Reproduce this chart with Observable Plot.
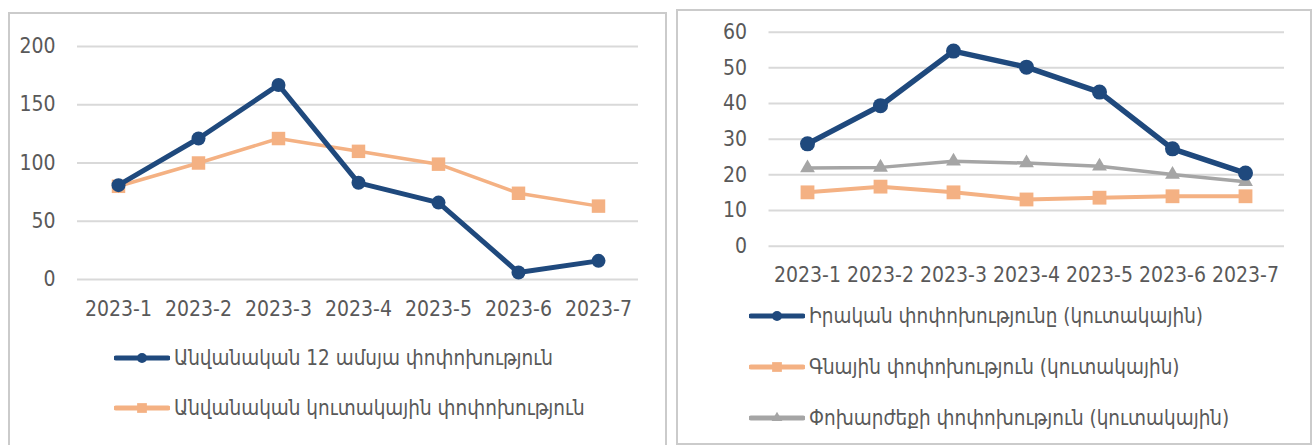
<!DOCTYPE html>
<html>
<head>
<meta charset="utf-8">
<script src="https://cdn.jsdelivr.net/npm/d3@7"></script>
<script src="https://cdn.jsdelivr.net/npm/@observablehq/plot@0.6"></script>
<style>
  html, body { margin: 0; padding: 0; background: #fff; width: 1316px; height: 445px; overflow: hidden; }
  .panel { position: absolute; box-sizing: border-box; border: 2px solid #cbcbcb; background: #fff; }
  .panel svg.plot { position: absolute; left: 0; top: 0; overflow: visible; }
  .legend-item { position: absolute; display: flex; align-items: center; white-space: nowrap;
    font-family: "DejaVu Sans Condensed", "DejaVu Sans", sans-serif; font-stretch: condensed; color: #595959; }
  .legend-item span { margin-left: 4px; }
  svg.plot text { font-family: "DejaVu Sans Condensed", "DejaVu Sans", sans-serif; font-stretch: condensed; }
</style>
</head>
<body>
<div id="left" class="panel" style="left:8px; top:12px; width:659px; height:450px;"></div>
<div id="right" class="panel" style="left:676px; top:9px; width:636px; height:436px;"></div>
<script>
// ---------- data ----------
const months = ["2023-1", "2023-2", "2023-3", "2023-4", "2023-5", "2023-6", "2023-7"];

// left chart
const leftSeriesNames = ["Անվանական 12 ամսյա փոփոխություն", "Անվանական կուտակային փոփոխություն"];
const nominal12m = [81, 121, 167, 83, 66, 6, 16];
const nominalCum = [80, 100, 121, 110, 99, 74, 63];
const leftTicks = [0, 50, 100, 150, 200];

// right chart
const rightSeriesNames = ["Իրական փոփոխությունը (կուտակային)", "Գնային փոփոխություն (կուտակային)", "Փոխարժեքի փոփոխություն (կուտակային)"];
const realCum = [28.7, 39.4, 54.7, 50.2, 43.2, 27.3, 20.5];
const priceCum = [15.1, 16.7, 15.1, 13.1, 13.6, 14.0, 14.0];
const fxCum = [21.9, 22.1, 23.8, 23.3, 22.4, 20.1, 18.1];
const rightTicks = [0, 10, 20, 30, 40, 50, 60];

const colors = ["#1f497d", "#f4b183", "#a5a5a5"];
const symbols = ["circle", "square", "triangle"];
const textColor = "#595959";
const gridColor = "#d9d9d9";

function longForm(names, arrays) {
  const out = [];
  names.forEach((n, i) => arrays[i].forEach((v, j) => out.push({series: n, month: months[j], value: v, idx: i})));
  return out;
}

function makeChart(opts) {
  const {names, arrays, ticks, domain, width, height, mt, mb, ml, mr, fs, pad, xpad, strokeW, rs} = opts;
  const data = longForm(names, arrays);
  const marks = [
    Plot.gridY(ticks, {stroke: gridColor, strokeOpacity: 1, strokeWidth: 2}),
    Plot.axisY(ticks, {tickSize: 0, tickPadding: pad, fontSize: fs, fill: textColor, label: null}),
    Plot.axisX({tickSize: 0, tickPadding: xpad, fontSize: fs, fill: textColor, label: null})
  ];
  for (let i = names.length - 1; i >= 0; i--) {
    const d = data.filter(r => r.idx === i);
    marks.push(Plot.line(d, {x: "month", y: "value", stroke: colors[i], strokeWidth: strokeW[i], strokeLinejoin: "round"}));
    marks.push(Plot.dot(d, {x: "month", y: "value", fill: colors[i], stroke: "none", symbol: symbols[i], r: rs[i]}));
  }
  const svg = Plot.plot({
    width, height, marginTop: mt, marginBottom: mb, marginLeft: ml, marginRight: mr,
    style: {background: "transparent", overflow: "visible"},
    x: {type: "point", domain: months, padding: 0.5, label: null, axis: null},
    y: {domain, label: null, axis: null},
    marks
  });
  svg.classList.add("plot");
  return svg;
}

function makeLegend(container, names, items, lineW, rs) {
  items.forEach((it, i) => {
    const div = document.createElement("div");
    div.className = "legend-item";
    div.style.left = it.x + "px";
    div.style.top = (it.y - 15) + "px";
    div.style.height = "30px";
    div.style.fontSize = it.fs + "px";
    const w = it.w;
    const sw = d3.create("svg").attr("width", w).attr("height", 30);
    sw.append("line").attr("x1", 2).attr("x2", w - 2).attr("y1", 15).attr("y2", 15)
      .attr("stroke", colors[i]).attr("stroke-width", lineW[i]).attr("stroke-linecap", "round");
    sw.append("path").attr("transform", `translate(${w / 2},15)`)
      .attr("d", d3.symbol(symbols[i] === "circle" ? d3.symbolCircle : symbols[i] === "square" ? d3.symbolSquare : d3.symbolTriangle, Math.PI * rs[i] * rs[i])())
      .attr("fill", colors[i]);
    div.appendChild(sw.node());
    const span = document.createElement("span");
    span.textContent = names[i];
    div.appendChild(span);
    container.appendChild(div);
  });
}

// ---------- left panel ----------
const left = document.getElementById("left");
left.appendChild(makeChart({
  names: leftSeriesNames, arrays: [nominal12m, nominalCum], ticks: leftTicks, domain: [0, 200],
  width: 655, height: 320, mt: 32, mb: 55, ml: 67, mr: 27, fs: 21, pad: 22, xpad: 22,
  strokeW: [5, 3.5], rs: [7, 7.6]
}));
makeLegend(left, leftSeriesNames, [
  {x: 104, y: 344, w: 56, fs: 20.5},
  {x: 104, y: 394, w: 56, fs: 20.5}
], [5, 5], [5, 5.5]);

// ---------- right panel ----------
const right = document.getElementById("right");
right.appendChild(makeChart({
  names: rightSeriesNames, arrays: [realCum, priceCum, fxCum], ticks: rightTicks, domain: [0, 60],
  width: 632, height: 300, mt: 20.7, mb: 65.3, ml: 90.5, mr: 26, fs: 21, pad: 22, xpad: 21,
  strokeW: [5.5, 4, 3.5], rs: [7.5, 7.8, 5.5]
}));
makeLegend(right, rightSeriesNames, [
  {x: 71, y: 305, w: 56, fs: 20.5},
  {x: 71, y: 356, w: 56, fs: 20.5},
  {x: 71, y: 407, w: 56, fs: 20.5}
], [5, 5, 5], [5, 5.5, 4]);
</script>
</body>
</html>
